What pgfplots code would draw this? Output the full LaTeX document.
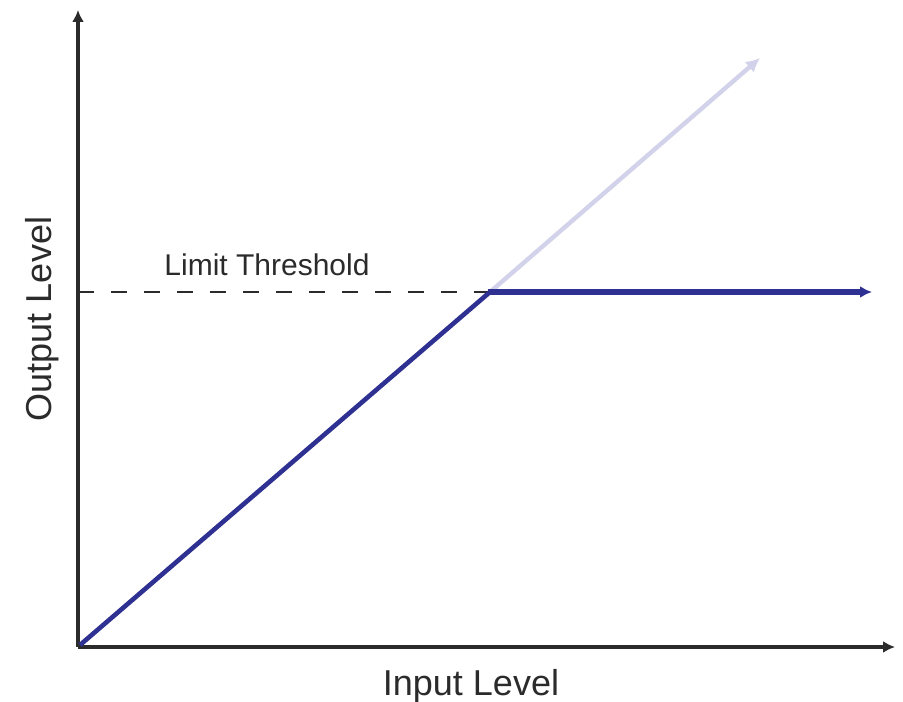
\documentclass[border=0pt]{standalone}
\usepackage{pgfplots}
\pgfplotsset{compat=1.18}
\usepackage{fontspec}
\setmainfont{Liberation Sans}
\usetikzlibrary{arrows.meta}
\definecolor{lineblue}{HTML}{2E3192}
\definecolor{lightblue}{HTML}{D2D2EA}
\definecolor{axisgray}{HTML}{2B2B2B}
\begin{document}
\begin{tikzpicture}
\useasboundingbox (-39pt,-27pt) rectangle (412.5pt,323.5pt);
\begin{axis}[
  at={(0,0)}, anchor=south west,
  scale only axis,
  width=408.5pt, height=318.5pt,
  xmin=0, xmax=817, ymin=0, ymax=637,
  axis lines=left,
  xtick=\empty, ytick=\empty,
  clip=false,
  axis line style={line width=1.8pt, color=axisgray},
  every outer x axis line/.append style={-{Latex[length=6pt,width=6pt]}},
  every outer y axis line/.append style={-{Latex[length=6pt,width=6pt]}},
]
% light continuation
\addplot[color=lightblue, line width=2.2pt, -{Latex[length=7pt,width=7pt]}] coordinates {(412,355) (682,589)};
% dashed threshold
\addplot[color=axisgray, line width=1pt, dash pattern=on 8pt off 8.5pt] coordinates {(0,355) (412,355)};
% limiter curve
\addplot[color=lineblue, line width=2.3pt] coordinates {(2,2) (412,355)};
\addplot[color=lineblue, line width=2.6pt, -{Latex[length=6pt,width=6pt]}] coordinates {(410,355) (794,355)};
\node[anchor=base, font=\fontsize{15}{18}\selectfont, text=axisgray, inner sep=0pt] at (axis cs:189,371) {Limit Threshold};
\node[anchor=base, font=\fontsize{18}{21}\selectfont, text=axisgray, inner sep=0pt] at (axis cs:393,-48) {Input Level};
\node[anchor=base, rotate=90, font=\fontsize{18}{21}\selectfont, text=axisgray, inner sep=0pt] at (axis cs:-27,328) {Output Level};
\end{axis}
\end{tikzpicture}
\end{document}
